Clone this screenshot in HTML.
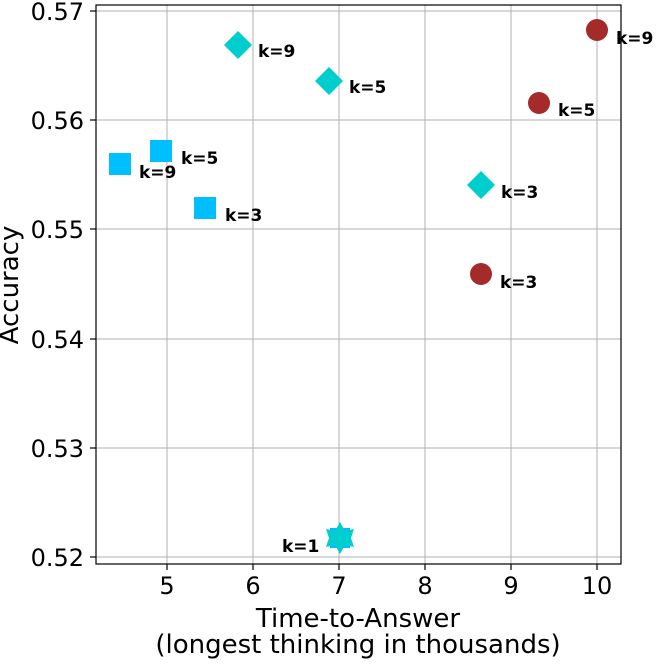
<!DOCTYPE html><html><head><style>body{margin:0;background:#fff}</style></head><body>
<svg width="658" height="661" xmlns="http://www.w3.org/2000/svg" font-family="DejaVu Sans, Liberation Sans, sans-serif">
<g stroke="#b0b0b0" stroke-width="1">
<line x1="167" y1="5" x2="167" y2="564"/><line x1="253" y1="5" x2="253" y2="564"/><line x1="339" y1="5" x2="339" y2="564"/><line x1="425" y1="5" x2="425" y2="564"/><line x1="511" y1="5" x2="511" y2="564"/><line x1="597" y1="5" x2="597" y2="564"/>
<line x1="96" y1="11" x2="621" y2="11"/><line x1="96" y1="120" x2="621" y2="120"/><line x1="96" y1="229" x2="621" y2="229"/><line x1="96" y1="339" x2="621" y2="339"/><line x1="96" y1="448" x2="621" y2="448"/><line x1="96" y1="557" x2="621" y2="557"/>
</g>
<rect x="96" y="5" width="525" height="559" fill="none" stroke="#000" stroke-width="1.2"/>
<g stroke="#000" stroke-width="1.2">
<line x1="167" y1="564" x2="167" y2="570"/><line x1="253" y1="564" x2="253" y2="570"/><line x1="339" y1="564" x2="339" y2="570"/><line x1="425" y1="564" x2="425" y2="570"/><line x1="511" y1="564" x2="511" y2="570"/><line x1="597" y1="564" x2="597" y2="570"/>
<line x1="90" y1="11" x2="96" y2="11"/><line x1="90" y1="120" x2="96" y2="120"/><line x1="90" y1="229" x2="96" y2="229"/><line x1="90" y1="339" x2="96" y2="339"/><line x1="90" y1="448" x2="96" y2="448"/><line x1="90" y1="557" x2="96" y2="557"/>
</g>
<g font-size="24" text-anchor="middle" fill="#000">
<text x="167" y="594">5</text><text x="253" y="594">6</text><text x="339" y="594">7</text><text x="425" y="594">8</text><text x="511" y="594">9</text><text x="597" y="594">10</text>
</g>
<g font-size="24" text-anchor="end" fill="#000">
<text x="84" y="20">0.57</text><text x="84" y="129">0.56</text><text x="84" y="238">0.55</text><text x="84" y="348">0.54</text><text x="84" y="457">0.53</text><text x="84" y="566">0.52</text>
</g>
<text x="358" y="627" font-size="26" text-anchor="middle">Time-to-Answer</text>
<text x="358" y="653" font-size="26" text-anchor="middle">(longest thinking in thousands)</text>
<text transform="translate(18,285) rotate(-90)" font-size="26" text-anchor="middle">Accuracy</text>
<g fill="#00bfff">
<rect x="109" y="153" width="22" height="22"/><rect x="150" y="140" width="22" height="22"/><rect x="194" y="197" width="22" height="22"/>
<rect x="330" y="528" width="20" height="20"/>
</g>
<g fill="#00cdcd">
<polygon points="238,31 252,45 238,59 224,45"/><polygon points="329,67 343,81 329,95 315,81"/><polygon points="481,171 495,185 481,199 467,185"/>
<polygon points="340,522 345,531 354,529 351,538 354,547 345,545 340,554 335,545 326,547 329,538 326,529 335,531"/>
</g>
<g fill="#a52a2a">
<circle cx="597" cy="30" r="11"/><circle cx="539" cy="103" r="11"/><circle cx="481" cy="274" r="11"/>
</g>
<g font-size="17" font-weight="bold" fill="#000">
<text x="139" y="178">k=9</text><text x="181" y="164">k=5</text><text x="225" y="221">k=3</text>
<text x="258" y="57">k=9</text><text x="349" y="93">k=5</text><text x="501" y="198">k=3</text>
<text x="616" y="44">k=9</text><text x="558" y="116">k=5</text><text x="500" y="288">k=3</text>
<text x="282" y="552">k=1</text>
</g>
</svg></body></html>
